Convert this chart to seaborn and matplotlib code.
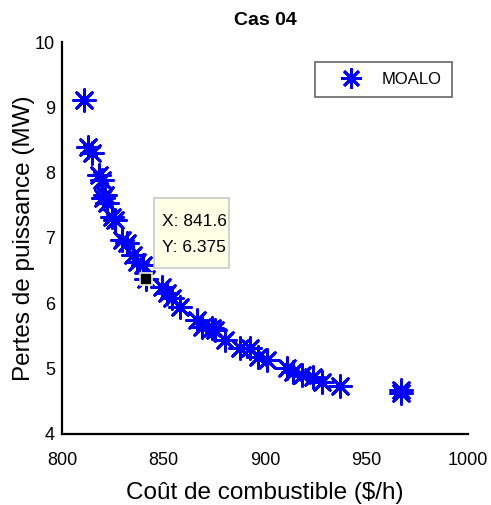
import matplotlib
matplotlib.use("Agg")
import matplotlib.pyplot as plt
import seaborn as sns
import pandas as pd
from matplotlib.lines import Line2D
from matplotlib.patches import Rectangle

cost = [810.8, 812.8, 814.8, 818.2, 819.7, 820.2, 821.2, 822.2, 824.6, 826.1,
        829.6, 832.0, 835.0, 836.9, 839.9, 841.6, 849.3, 851.7, 854.2, 858.1,
        866.5, 869.0, 873.9, 875.4, 880.3, 887.7, 892.6, 896.6, 901.0, 910.8,
        913.8, 918.2, 923.6, 928.1, 936.9, 966.8, 967.2]
loss = [9.11, 8.39, 8.30, 7.96, 7.89, 7.61, 7.66, 7.54, 7.32, 7.28,
        6.97, 6.92, 6.74, 6.63, 6.59, 6.375, 6.25, 6.16, 6.08, 5.94,
        5.74, 5.64, 5.62, 5.59, 5.44, 5.32, 5.32, 5.18, 5.13, 5.01,
        4.95, 4.90, 4.87, 4.80, 4.73, 4.68, 4.62]
series_name = "MOALO"
tip_x = 841.6
tip_y = 6.375
x_ticks = [800, 850, 900, 950, 1000]
y_ticks = [4, 5, 6, 7, 8, 9, 10]

sns.set_style("white")
plt.rcParams["font.family"] = ["Liberation Sans", "DejaVu Sans"]
plt.rcParams["text.color"] = "black"
plt.rcParams["axes.labelcolor"] = "black"
plt.rcParams["xtick.color"] = "black"
plt.rcParams["ytick.color"] = "black"

df = pd.DataFrame({"cost": cost, "loss": loss, "name": series_name})

W, H = 491, 505
fig = plt.figure(figsize=(W / 100, H / 100), dpi=100)
ax = fig.add_axes([62 / W, 1 - 434 / H, 406 / W, 392 / H])

sns.scatterplot(data=df, x="cost", y="loss", marker=(8, 2, 0), s=250,
                color="#0000ff", linewidth=2.0, ax=ax, legend=False)

ax.set_xlim(800, 1000)
ax.set_ylim(4, 10)
ax.set_xticks(x_ticks)
ax.set_yticks(y_ticks)
ax.tick_params(direction="in", length=5, width=1.2, labelsize=13,
               colors="black", labelcolor="black")
ax.tick_params(axis="x", pad=13)
ax.tick_params(axis="y", pad=5)
for s in ["top", "right"]:
    ax.spines[s].set_visible(False)
for s in ["left", "bottom"]:
    ax.spines[s].set_color("black")
    ax.spines[s].set_linewidth(1.6)

ax.set_title("Cas 04", fontsize=14, fontweight="bold", pad=12, color="black")
ax.set_xlabel("Coût de combustible ($/h)", fontsize=17.5, labelpad=9,
              color="black")
ax.set_ylabel("Pertes de puissance (MW)", fontsize=17.5, labelpad=0,
              color="black")

# data tip marker and box
ax.plot([tip_x], [tip_y], marker="s", markersize=9, color="black",
        markeredgecolor="#f5f5c8", markeredgewidth=1.2, linestyle="none")
fig.patches.append(Rectangle((154 / W, 1 - 268 / H), 75 / W, 70 / H,
                             transform=fig.transFigure, facecolor="#ffffe6",
                             edgecolor="#c8c8c8", linewidth=1.2, zorder=5))
fig.text(162 / W, 1 - 222 / H, f"X: {tip_x}", fontsize=12.5,
         va="center", ha="left", zorder=6, color="black")
fig.text(162 / W, 1 - 248 / H, f"Y: {tip_y}", fontsize=12.5,
         va="center", ha="left", zorder=6, color="black")

# legend
h = Line2D([], [], marker=(8, 2, 0), markersize=15, color="#0000ff",
           markeredgewidth=2.0, linestyle="none")
leg = ax.legend([h], [series_name], loc="upper right",
                bbox_to_anchor=(452 / W, 1 - 62 / H),
                bbox_transform=fig.transFigure, fontsize=12,
                frameon=True, fancybox=False, borderpad=0.6,
                handletextpad=0.3, borderaxespad=0, handlelength=3.1)
leg.get_frame().set_edgecolor("#404040")
leg.get_frame().set_linewidth(1.2)
for t in leg.get_texts():
    t.set_color("black")

fig.savefig("out.png", dpi=100)
